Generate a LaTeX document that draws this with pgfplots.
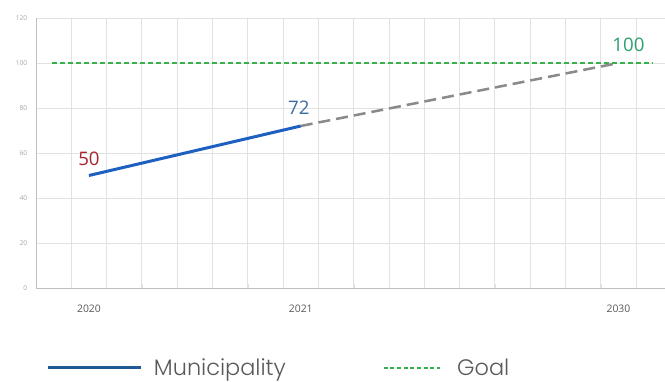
\documentclass[border=0pt]{standalone}
\usepackage{pgfplots}
\pgfplotsset{compat=1.18}
\usepackage{fontspec}
\setmainfont{Poppins}[UprightFont=* Light]
\newfontfamily\numfont{Open Sans}
\definecolor{lineblue}{HTML}{1E60C0}
\definecolor{legblue}{HTML}{1F5A96}
\definecolor{goalgreen}{HTML}{35B04A}
\definecolor{projgray}{HTML}{8A8A8A}
\definecolor{lblred}{HTML}{A8232E}
\definecolor{lblblue}{HTML}{3A6E9E}
\definecolor{lblgreen}{HTML}{2AA06E}
\definecolor{gridgray}{HTML}{E2E2E2}
\begin{document}
\begin{tikzpicture}
\begin{axis}[
  at={(27pt,-216pt)}, anchor=south west,
  scale only axis, width=484.5pt, height=202.5pt,
  xmin=0, xmax=18.3, ymin=0, ymax=120,
  xtick={1.5,7.5,16.5}, xticklabels={2020,2021,2030},
  minor xtick={0,1,...,17},
  ytick={0,20,...,120},
  xminorgrids, ymajorgrids,
  grid style={draw=gridgray, line width=0.75pt},
  minor grid style={draw=gridgray, line width=0.75pt},
  axis x line*=bottom, axis y line*=left,
  axis line style={-, draw=gridgray!85!black, line width=0.75pt},
  major tick length=0pt, minor tick length=3pt,
  minor tick style={draw=gridgray},
  /pgf/number format/assume math mode=true,
  xticklabel style={font=\numfont\fontsize{7.8}{8}\selectfont, text=black!65, yshift=-9.5pt},
  yticklabel style={font=\numfont\fontsize{5}{5}\selectfont, text=black!35, xshift=-3pt},
  legend style={at={(0.0092,-0.296)}, anchor=west, draw=none, fill=none,
    font=\fontsize{16.8}{18}\selectfont, text=black!65,
    /tikz/every even column/.append style={column sep=70.5pt}},
  legend columns=2,
]
\addlegendimage{legend image code/.code={\draw[color=legblue, line width=2.25pt] (0pt,0pt) -- (69.75pt,0pt); \path (77.5pt,0pt);}}
\addlegendentry{Municipality}
\addlegendimage{legend image code/.code={\draw[color=goalgreen, line width=1.5pt, dash pattern=on 3pt off 2pt] (0pt,0pt) -- (42pt,0pt); \path (53pt,0pt);}}
\addlegendentry{Goal}
\addplot[goalgreen, line width=1.5pt, dash pattern=on 3.5pt off 2.5pt, forget plot] coordinates {(0.45,100) (17.48,100)};
\addplot[projgray, line width=1.9pt, dash pattern=on 9pt off 4.5pt, forget plot] coordinates {(7.5,72) (16.5,100)};
\addplot[lineblue, line width=2.25pt, forget plot] coordinates {(1.5,50) (7.5,72)};
\node[text=lblred, font=\numfont\fontsize{14}{14}\selectfont] at (axis cs:1.5,50) [yshift=12.75pt] {50};
\node[text=lblblue, font=\numfont\fontsize{14}{14}\selectfont] at (axis cs:7.5,72) [yshift=13.5pt, xshift=-1.5pt] {72};
\node[text=lblgreen, font=\numfont\fontsize{14}{14}\selectfont] at (axis cs:16.5,100) [yshift=13.5pt, xshift=7.5pt] {100};
\end{axis}
\pgfresetboundingbox
\path[use as bounding box] (0,0) rectangle (498.75pt,-286.5pt);
\end{tikzpicture}
\end{document}
